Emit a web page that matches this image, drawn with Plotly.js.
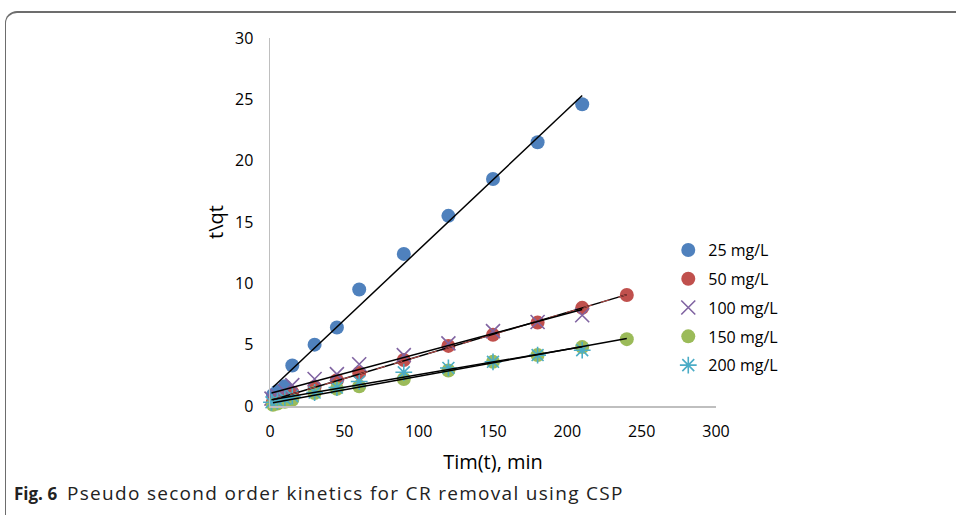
<!DOCTYPE html>
<html>
<head>
<meta charset="utf-8">
<script src="https://cdn.plot.ly/plotly-3.0.1.min.js"></script>
<style>
  html, body { margin: 0; padding: 0; background: #fff; }
  #frame { position: absolute; left: 5px; top: 11px; width: 960px; height: 520px;
           border-top: 2px solid #6d6d6d; border-left: 1.5px solid #6d6d6d;
           border-top-left-radius: 12px; box-sizing: border-box; }
  #chart { position: absolute; left: 0; top: 0; width: 956px; height: 515px; }
</style>
</head>
<body>
<div id="frame"></div>
<div id="chart"></div>
<script>
// ---- data ----
const seriesNames = ["25 mg/L", "50 mg/L", "100 mg/L", "150 mg/L", "200 mg/L"];

const t25  = [2, 5, 10, 15, 30, 45, 60, 90, 120, 150, 180, 210];
const y25  = [0.9, 1.2, 1.6, 3.3, 5.0, 6.4, 9.5, 12.4, 15.5, 18.5, 21.5, 24.6];

const t50  = [2, 5, 10, 15, 30, 45, 60, 90, 120, 150, 180, 210, 240];
const y50  = [0.3, 0.5, 0.8, 1.1, 1.55, 2.1, 2.7, 3.75, 4.9, 5.8, 6.8, 8.0, 9.05];

const t100 = [1, 5, 10, 15, 30, 45, 60, 90, 120, 150, 180, 210];
const y100 = [0.6, 0.8, 1.2, 1.7, 2.2, 2.6, 3.4, 4.15, 5.1, 6.1, 6.85, 7.4];

const t150 = [2, 5, 10, 15, 30, 45, 60, 90, 120, 150, 180, 210, 240];
const y150 = [0.1, 0.2, 0.35, 0.5, 1.05, 1.4, 1.6, 2.2, 2.9, 3.6, 4.15, 4.8, 5.45];

const t200 = [1, 5, 10, 15, 30, 45, 60, 90, 120, 150, 180, 210];
const y200 = [0.3, 0.4, 0.6, 0.8, 1.1, 1.5, 2.0, 2.75, 3.1, 3.6, 4.15, 4.55];

const xTicks = [0, 50, 100, 150, 200, 250, 300];
const yTicks = [0, 5, 10, 15, 20, 25, 30];

// ---- styles ----
const colors = ["#4f81bd", "#c0504d", "#8064a2", "#9bbb59", "#4bacc6"];
const FONT = "Open Sans, Liberation Sans, sans-serif";

function fit(x, y) {
  const n = x.length;
  let sx = 0, sy = 0, sxx = 0, sxy = 0;
  for (let i = 0; i < n; i++) { sx += x[i]; sy += y[i]; sxx += x[i]*x[i]; sxy += x[i]*y[i]; }
  const b = (n*sxy - sx*sy) / (n*sxx - sx*sx);
  const a = (sy - b*sx) / n;
  const x0 = Math.min(...x), x1 = Math.max(...x);
  return { x: [x0, x1], y: [a + b*x0, a + b*x1] };
}

const xs = [t25, t50, t100, t150, t200];
const ys = [y25, y50, y100, y150, y200];
const markers = [
  { symbol: "circle", size: 14, color: colors[0] },
  { symbol: "circle", size: 14, color: colors[1] },
  { symbol: "x-thin-open", size: 14, color: colors[2], line: { color: colors[2], width: 1.6 } },
  { symbol: "circle", size: 14, color: colors[3] },
  { symbol: "asterisk-open", size: 14, color: colors[4], line: { color: colors[4], width: 1.6 } }
];

const traces = [];
for (let i = 0; i < 5; i++) {
  traces.push({
    type: "scatter", mode: "markers", name: seriesNames[i],
    x: xs[i], y: ys[i], marker: markers[i],
    legendgroup: "g" + i, cliponaxis: false
  });
}
for (let i = 0; i < 5; i++) {
  const f = fit(xs[i], ys[i]);
  traces.push({
    type: "scatter", mode: "lines", x: f.x, y: f.y, showlegend: false,
    line: { color: "#000", width: 1.5 }, hoverinfo: "skip", cliponaxis: false
  });
  if (i === 1) {
    traces.push({
      type: "scatter", mode: "lines", x: f.x, y: f.y, showlegend: false,
      line: { color: colors[1], width: 1, dash: "dash" }, hoverinfo: "skip", cliponaxis: false
    });
  }
}

const layout = {
  width: 956, height: 515,
  margin: { l: 270, r: 240, t: 38, b: 109 },
  paper_bgcolor: "rgba(0,0,0,0)", plot_bgcolor: "rgba(0,0,0,0)",
  font: { family: FONT, size: 16, color: "#000" },
  showlegend: true,
  xaxis: {
    range: [0, 300], tickvals: xTicks, ticktext: xTicks.map(String),
    showgrid: false, zeroline: false, showline: true, linecolor: "#bfbfbf", linewidth: 1.5,
    ticks: "outside", ticklen: 10, tickcolor: "rgba(0,0,0,0)",
    tickfont: { family: FONT, size: 16 },
    title: { text: "Tim(t), min", font: { family: FONT, size: 20 }, standoff: 14 },
    automargin: false, fixedrange: true
  },
  yaxis: {
    range: [0, 30], tickvals: yTicks, ticktext: yTicks.map(String),
    showgrid: false, zeroline: false, showline: true, linecolor: "#bfbfbf", linewidth: 1.5,
    ticks: "outside", ticklen: 12, tickcolor: "rgba(0,0,0,0)",
    tickfont: { family: FONT, size: 16 },
    title: { text: "t\\qt", font: { family: FONT, size: 20 }, standoff: 6 },
    automargin: false, fixedrange: true
  },
  legend: {
    x: 0.893, xanchor: "left", y: 0.47, yanchor: "top",
    font: { family: FONT, size: 16 }, tracegroupgap: 5,
    bgcolor: "rgba(0,0,0,0)", itemwidth: 30
  },
  annotations: [{
    xref: "paper", yref: "paper", x: (12 - 270) / 446, y: (406 - 493) / 368,
    xanchor: "left", yanchor: "middle", showarrow: false, align: "left",
    text: "<b><span style=\"font-size:17px\">Fig. 6</span></b>  <span style=\"letter-spacing:1.3px\">Pseudo second order kinetics for CR removal using CSP</span>",
    font: { family: FONT, size: 19, color: "#222" }
  }]
};

Plotly.newPlot("chart", traces, layout, { displayModeBar: false, staticPlot: true });
</script>
</body>
</html>
